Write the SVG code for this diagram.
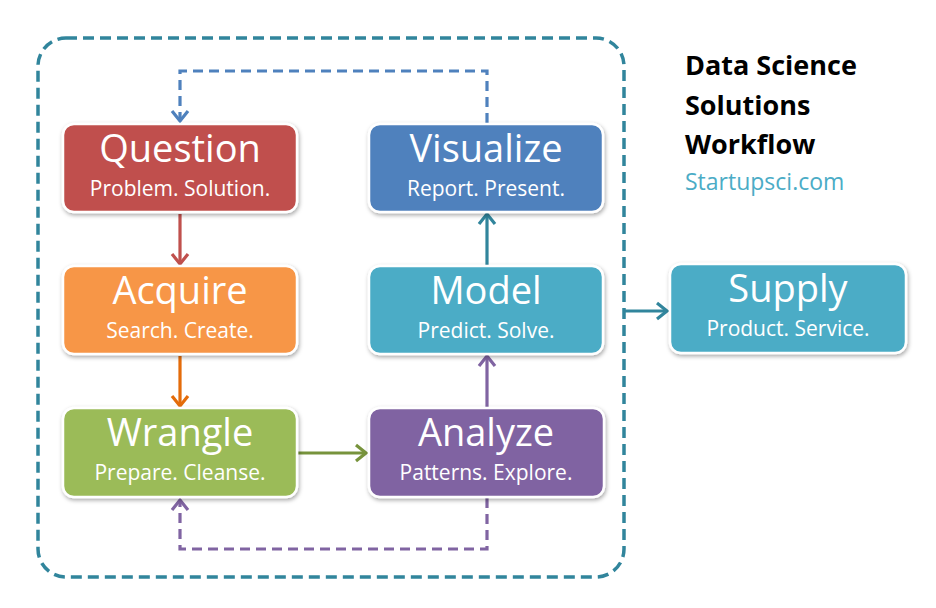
<svg xmlns="http://www.w3.org/2000/svg" width="936" height="608" viewBox="0 0 936 608">
<style>
.box{stroke:#fff;stroke-width:2.5;filter:url(#sh)}
.t{font-family:"Open Sans",sans-serif;fill:#fff;text-anchor:middle}
.h{font-size:38px}
.s{font-size:21px}
.ttl{font-family:"Open Sans",sans-serif;font-weight:bold;font-size:27px;fill:#000}
.c{fill:none;stroke-width:3.2}
.d{stroke-dasharray:10 6}
</style>
<defs>
<filter id="sh" x="-10%" y="-10%" width="125%" height="130%">
<feDropShadow dx="1" dy="2" stdDeviation="2" flood-color="#000" flood-opacity="0.35"/>
</filter>
<marker id="mr" markerUnits="userSpaceOnUse" markerWidth="22" markerHeight="22" refX="13" refY="11" orient="auto"><path d="M3,3 L13,11 L3,19" fill="none" stroke="#C0504D" stroke-width="3.2"/></marker>
<marker id="mo" markerUnits="userSpaceOnUse" markerWidth="22" markerHeight="22" refX="13" refY="11" orient="auto"><path d="M3,3 L13,11 L3,19" fill="none" stroke="#E46C0A" stroke-width="3.2"/></marker>
<marker id="mg" markerUnits="userSpaceOnUse" markerWidth="22" markerHeight="22" refX="13" refY="11" orient="auto"><path d="M3,3 L13,11 L3,19" fill="none" stroke="#77933C" stroke-width="3.2"/></marker>
<marker id="mp" markerUnits="userSpaceOnUse" markerWidth="22" markerHeight="22" refX="13" refY="11" orient="auto"><path d="M3,3 L13,11 L3,19" fill="none" stroke="#8064A2" stroke-width="3.2"/></marker>
<marker id="mt" markerUnits="userSpaceOnUse" markerWidth="22" markerHeight="22" refX="13" refY="11" orient="auto"><path d="M3,3 L13,11 L3,19" fill="none" stroke="#31859C" stroke-width="3.2"/></marker>
<marker id="mb" markerUnits="userSpaceOnUse" markerWidth="22" markerHeight="22" refX="13" refY="11" orient="auto"><path d="M3,3 L13,11 L3,19" fill="none" stroke="#4F81BD" stroke-width="3.2"/></marker>
</defs>
<rect width="936" height="608" fill="#fff"/>
<g id="container">
<rect x="38" y="38" width="586" height="539" rx="28" fill="none" stroke="#31859C" stroke-width="3.5" stroke-dasharray="11 6"/>
</g>
<g id="connectors">
<path class="c" stroke="#C0504D" d="M180,214 V264" marker-end="url(#mr)"/>
<path class="c" stroke="#E46C0A" d="M180,356 V406" marker-end="url(#mo)"/>
<path class="c" stroke="#77933C" d="M298,453 H366" marker-end="url(#mg)"/>
<path class="c" stroke="#8064A2" d="M487,407 V356" marker-end="url(#mp)"/>
<path class="c" stroke="#31859C" d="M487,265 V214" marker-end="url(#mt)"/>
<path class="c d" stroke="#4F81BD" d="M487,123 V71 H180 V121" marker-end="url(#mb)"/>
<path class="c d" stroke="#8064A2" d="M487,498 V549 H180 V500" marker-end="url(#mp)"/>
<path class="c" stroke="#31859C" d="M625,311 H667" marker-end="url(#mt)"/>
</g>
<g id="question">
<rect class="box" x="63" y="124" width="234" height="88" rx="11" fill="#C0504D"/>
<text class="t h" x="180" y="162">Question</text>
<text class="t s" x="180" y="196">Problem. Solution.</text>
</g>
<g id="acquire">
<rect class="box" x="63" y="266" width="234" height="88" rx="11" fill="#F79646"/>
<text class="t h" x="180" y="304">Acquire</text>
<text class="t s" x="180" y="338">Search. Create.</text>
</g>
<g id="wrangle">
<rect class="box" x="63" y="408" width="234" height="89" rx="11" fill="#9BBB59"/>
<text class="t h" x="180" y="446">Wrangle</text>
<text class="t s" x="180" y="480">Prepare. Cleanse.</text>
</g>
<g id="visualize">
<rect class="box" x="369" y="124" width="234" height="88" rx="11" fill="#4F81BD"/>
<text class="t h" x="486" y="162">Visualize</text>
<text class="t s" x="486" y="196">Report. Present.</text>
</g>
<g id="model">
<rect class="box" x="369" y="266" width="234" height="88" rx="11" fill="#4BACC6"/>
<text class="t h" x="486" y="304">Model</text>
<text class="t s" x="486" y="338">Predict. Solve.</text>
</g>
<g id="analyze">
<rect class="box" x="369" y="408" width="235" height="89" rx="11" fill="#8064A2"/>
<text class="t h" x="486" y="446">Analyze</text>
<text class="t s" x="486" y="480">Patterns. Explore.</text>
</g>
<g id="supply">
<rect class="box" x="670" y="264" width="236" height="89" rx="11" fill="#4BACC6"/>
<text class="t h" x="788" y="302">Supply</text>
<text class="t s" x="788" y="336">Product. Service.</text>
</g>
<g id="title">
<text class="ttl" x="685" y="75">Data Science</text>
<text class="ttl" x="685" y="115">Solutions</text>
<text class="ttl" x="685" y="154">Workflow</text>
<text x="685" y="190" font-family="'Open Sans',sans-serif" font-size="23" fill="#4BACC6">Startupsci.com</text>
</g>
</svg>
